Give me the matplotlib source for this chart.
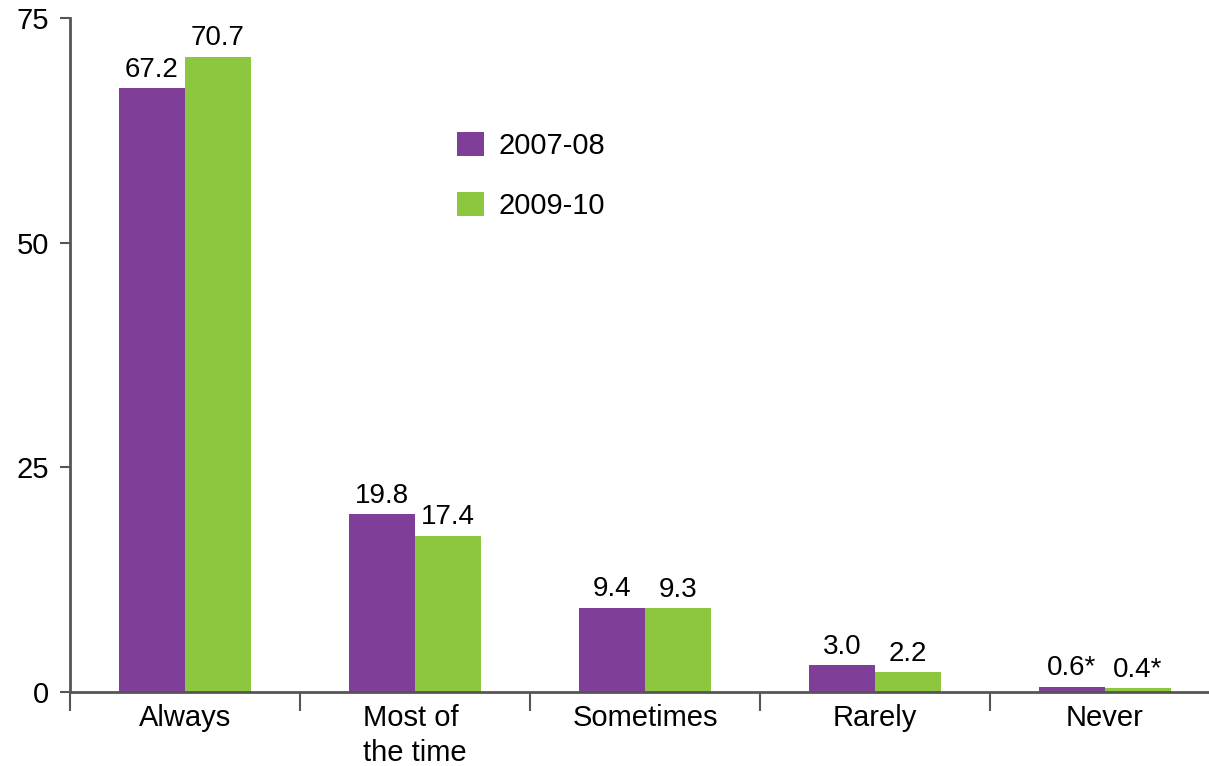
import numpy as np
import matplotlib.pyplot as plt

plt.rcParams['font.family'] = ['Liberation Sans', 'DejaVu Sans']

# response categories and percentages for each survey period
categories = ['Always', 'Most of\nthe time', 'Sometimes', 'Rarely', 'Never']
pct_0708 = [67.2, 19.8, 9.4, 3.0, 0.6]
pct_0910 = [70.7, 17.4, 9.3, 2.2, 0.4]
labels_0708 = ['67.2', '19.8', '9.4', '3.0', '0.6*']
labels_0910 = ['70.7', '17.4', '9.3', '2.2', '0.4*']

purple = '#7f3f98'
green = '#8dc63f'
axis_grey = '#555555'

W, H = 1209, 766
fig = plt.figure(figsize=(W / 100, H / 100), dpi=100)
ax = fig.add_axes([70 / W, 1 - 692 / H, (W - 70) / W, (692 - 18) / H])

x = np.arange(len(categories))
bw = 0.287
b1 = ax.bar(x - bw / 2, pct_0708, bw, color=purple, label='2007-08')
b2 = ax.bar(x + bw / 2, pct_0910, bw, color=green, label='2009-10')

for bars, labs in [(b1, labels_0708), (b2, labels_0910)]:
    for rect, lab in zip(bars, labs):
        ax.text(rect.get_x() + rect.get_width() / 2, rect.get_height() + 0.6, lab,
                ha='center', va='bottom', fontsize=20)

ax.set_ylim(0, 75)
ax.set_xlim(-0.5, 4.5 - 11 / 230)
ax.set_yticks([0, 25, 50, 75])
ax.tick_params(axis='y', labelsize=21, length=7, width=1.5, color=axis_grey, pad=8)

# boundary ticks between groups, category names on minor ticks
ax.set_xticks(np.arange(-0.5, 4.5, 1.0))
ax.set_xticklabels([])
ax.tick_params(axis='x', which='major', direction='out', length=14, width=1.5, color=axis_grey)
ax.set_xticks(x, minor=True)
ax.set_xticklabels(categories, minor=True, fontsize=21, linespacing=1.3)
for t in ax.get_xticklabels(minor=True):
    t.set_multialignment('left')
ax.tick_params(axis='x', which='minor', length=0, pad=9)

for s in ['top', 'right']:
    ax.spines[s].set_visible(False)
for s in ['left', 'bottom']:
    ax.spines[s].set_color(axis_grey)
    ax.spines[s].set_linewidth(2)

ax.legend(loc='upper left', bbox_to_anchor=(361 / (W - 70), 0.87), frameon=False,
          fontsize=21, handlelength=0.9, handleheight=0.9, labelspacing=1.1,
          handletextpad=0.5)

fig.savefig('out.png', dpi=100)
